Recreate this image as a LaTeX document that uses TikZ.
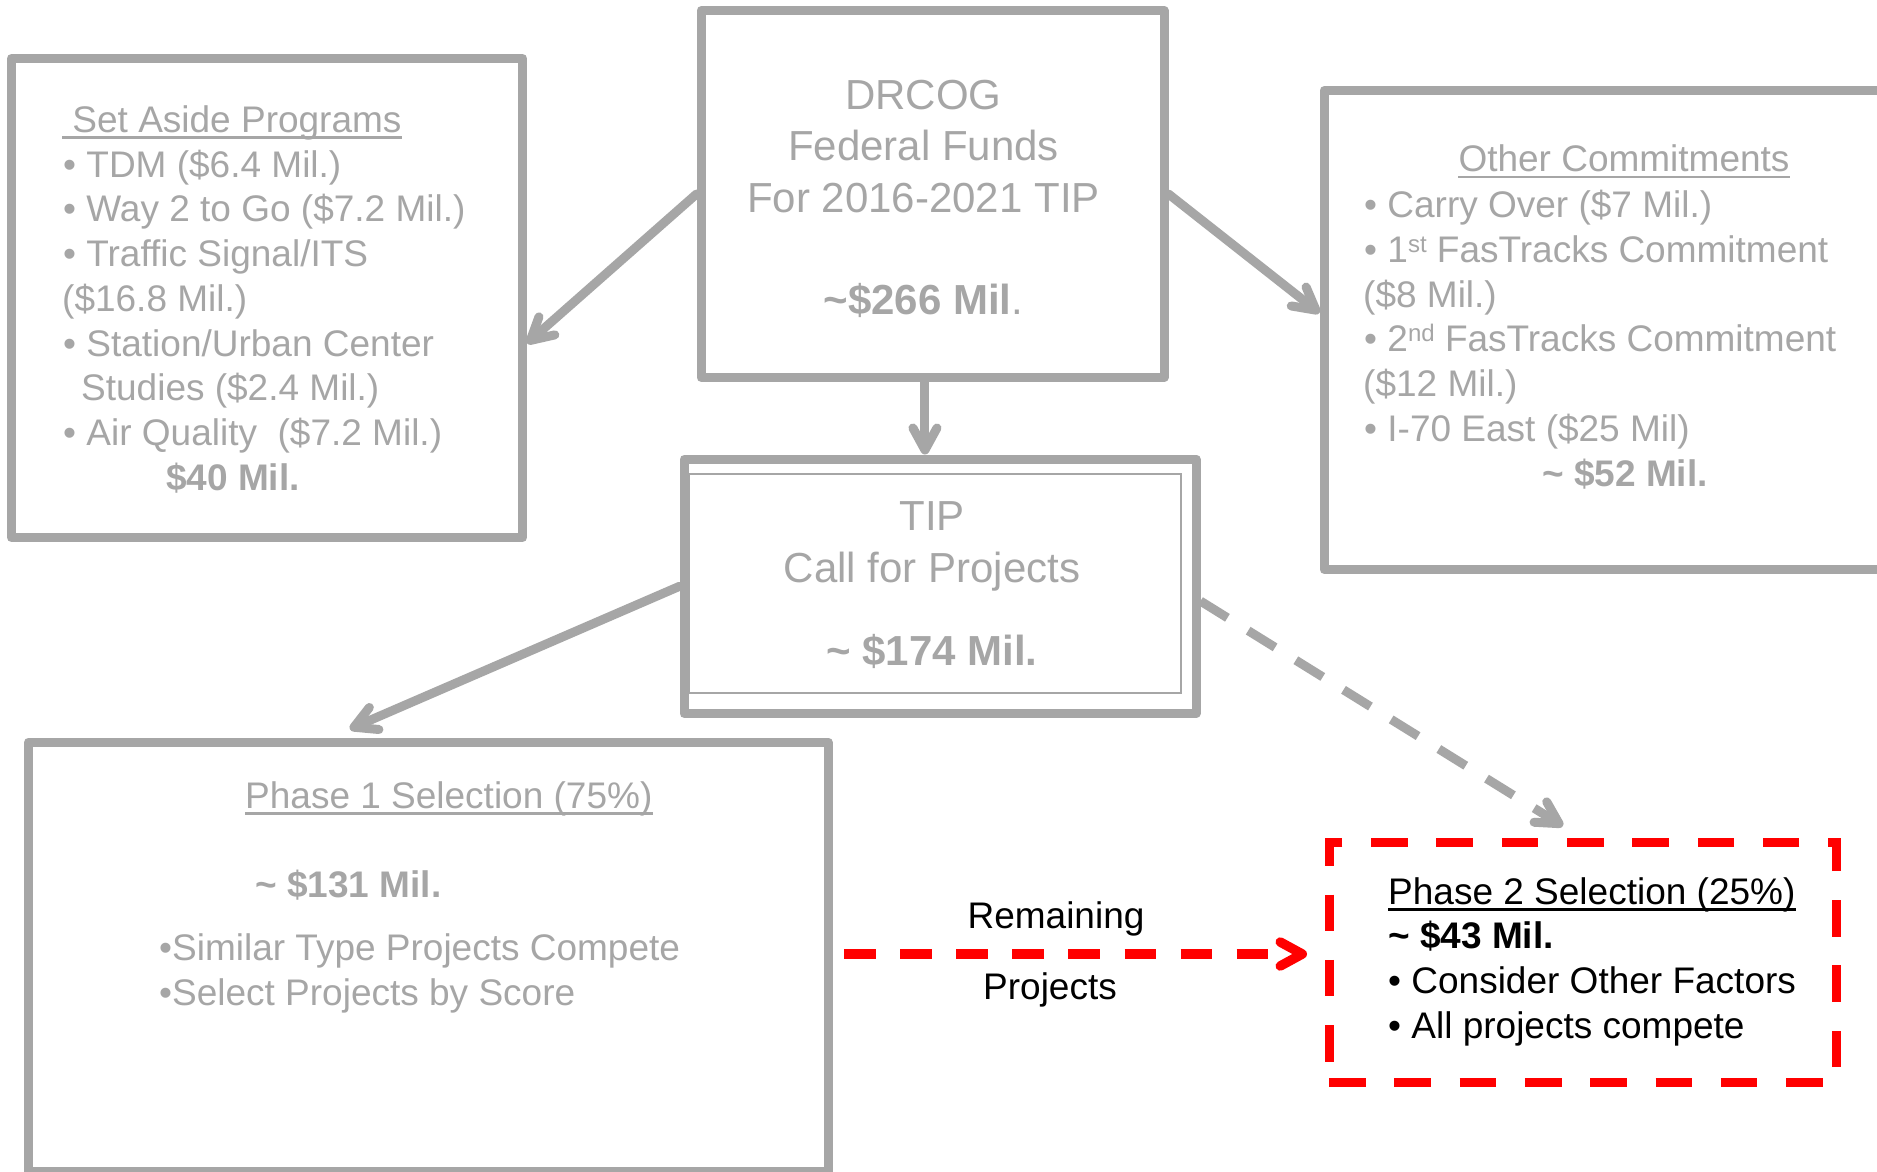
\documentclass[tikz,border=0pt]{standalone}
\usepackage{fontspec}
\setmainfont{Liberation Sans}
\usetikzlibrary{arrows.meta,calc}
\definecolor{gr}{HTML}{A6A6A6}
\definecolor{rd}{HTML}{FF0000}
\newcommand{\myss}[1]{\raisebox{10pt}{\fontsize{24}{24}\selectfont #1}}
\begin{document}
\begin{tikzpicture}[x=1pt,y=-1pt,
  box/.style={draw=gr, line width=9pt, line join=round, rectangle, inner sep=0pt},
  txt/.style={inner sep=0pt, text=gr, font=\fontsize{37}{44.8}\selectfont},
  big/.style={inner sep=0pt, text=gr, font=\fontsize{42}{51}\selectfont},
  blk/.style={inner sep=0pt, text=black, font=\fontsize{37}{44.8}\selectfont},
  tipshape/.style={-{Straight Barb[length=22pt,width=24pt,round]}},
  arr/.style={draw=gr, line width=9pt, line cap=round, tipshape},
  dashgrey/.style={draw=gr, line width=9pt, dash pattern=on 31.7pt off 24.4pt, tipshape},
  dashred/.style={draw=rd, line width=9.5pt, dash pattern=on 31.7pt off 24.4pt, tipshape},
  uline/.style={line width=2.6pt}
]
\useasboundingbox (0,0) rectangle (1877,1171);
\fill[white] (0,0) rectangle (1877,1171);
\clip (0,0) rectangle (1877,1171);

% boxes
\node[box, minimum width=511pt, minimum height=479pt] (setaside) at (267,298) {};
\node[box, minimum width=463pt, minimum height=367pt] (drcog) at (932.5,194) {};
\node[box, minimum width=600pt, minimum height=479pt] (other) at (1624,330) {};
\node[box, minimum width=512pt, minimum height=254.6pt] (tip) at (940,586.3) {};
\node[draw=gr, line width=1.8pt, inner sep=0pt, minimum width=492pt, minimum height=219.4pt] (tipin) at (935,583.3) {};
\node[box, minimum width=799.5pt, minimum height=429pt] (phase1) at (428.25,956.5) {};
\node[draw=rd, line width=9pt, dash pattern=on 36.6pt off 28.7pt, inner sep=0pt, minimum width=507pt, minimum height=240pt] (phase2) at (1582.5,962.5) {};

% Set Aside text
\node[txt, anchor=base west] (sa0) at (62,132) {\hspace*{0.278em}Set Aside Programs};
\draw[gr, uline] ($(sa0.base west)+(0,5.3)$) -- ($(sa0.base east)+(0,5.3)$);
\node[txt, anchor=base west] (sa1) at (63,177) {• TDM (\$6.4 Mil.)};
\node[txt, anchor=base west] (sa2) at (63,221.5) {• Way 2 to Go (\$7.2 Mil.)};
\node[txt, anchor=base west] (sa3) at (63,266) {• Traffic Signal/ITS};
\node[txt, anchor=base west] (sa4) at (62,311) {(\$16.8 Mil.)};
\node[txt, anchor=base west] (sa5) at (63,356) {• Station/Urban Center};
\node[txt, anchor=base west] (sa6) at (81,400.5) {Studies (\$2.4 Mil.)};
\node[txt, anchor=base west] (sa7) at (63,445) {• Air Quality\ \ (\$7.2 Mil.)};
\node[txt, anchor=base west, font=\fontsize{37}{44.8}\selectfont\bfseries] (sa8) at (166,490) {\$40 Mil.};

% DRCOG text
\node[big, anchor=base] (dr1) at (923.5,109) {DRCOG};
\node[big, anchor=base] (dr2) at (923.5,160.6) {Federal Funds};
\node[big, anchor=base] (dr3) at (923.5,212) {For 2016-2021 TIP};
\node[big, anchor=base] (dr4) at (923.5,314) {\textbf{\textasciitilde\$266 Mil}.};

% TIP text
\node[big, anchor=base] (tp1) at (932,530.5) {TIP};
\node[big, anchor=base] (tp2) at (932,582) {Call for Projects};
\node[big, anchor=base, font=\fontsize{42}{51}\selectfont\bfseries] (tp3) at (932,665) {\textasciitilde{} \$174 Mil.};

% Other commitments text
\node[txt, anchor=base] (oc0) at (1624,171.5) {Other Commitments};
\draw[gr, uline] ($(oc0.base west)+(0,5.3)$) -- ($(oc0.base east)+(0,5.3)$);
\node[txt, anchor=base west] (oc1) at (1364,217.5) {• Carry Over (\$7 Mil.)};
\node[txt, anchor=base west] (oc2) at (1364,262) {• 1\myss{st} FasTracks Commitment};
\node[txt, anchor=base west] (oc3) at (1363,307) {(\$8 Mil.)};
\node[txt, anchor=base west] (oc4) at (1364,351.6) {• 2\myss{nd} FasTracks Commitment};
\node[txt, anchor=base west] (oc5) at (1363,396) {(\$12 Mil.)};
\node[txt, anchor=base west] (oc6) at (1364,441) {• I-70 East (\$25 Mil)};
\node[txt, anchor=base, font=\fontsize{37}{44.8}\selectfont\bfseries] (oc7) at (1625,486) {\textasciitilde{} \$52 Mil.};

% Phase 1 text
\node[txt, anchor=base west] (p1a) at (245,808) {Phase 1 Selection (75\%)};
\draw[gr, uline] ($(p1a.base west)+(0,5.3)$) -- ($(p1a.base east)+(0,5.3)$);
\node[txt, anchor=base west, font=\fontsize{37}{44.8}\selectfont\bfseries] (p1b) at (255,897) {\textasciitilde{} \$131 Mil.};
\node[txt, anchor=base west] (p1c) at (159,960.8) {•Similar Type Projects Compete};
\node[txt, anchor=base west] (p1d) at (159,1005.6) {•Select Projects by Score};

% Phase 2 text
\node[blk, anchor=base west] (p2a) at (1388,904) {Phase 2 Selection (25\%)};
\draw[black, uline] ($(p2a.base west)+(0,5.3)$) -- ($(p2a.base east)+(0,5.3)$);
\node[blk, anchor=base west, font=\fontsize{37}{44.8}\selectfont\bfseries] (p2b) at (1388,948.6) {\textasciitilde{} \$43 Mil.};
\node[blk, anchor=base west] (p2c) at (1388,993) {• Consider Other Factors};
\node[blk, anchor=base west] (p2d) at (1388,1038) {• All projects compete};

% labels on red arrow
\node[blk, anchor=base] (rem) at (1056,928) {Remaining};
\node[blk, anchor=base] (proj) at (1050,999) {Projects};

% connectors
\draw[arr] (drcog.west) -- ($(setaside.north east)!0.593!(setaside.south east)$);
\coordinate (d1) at ($(drcog.south west)!0.484!(drcog.south east)$);
\draw[arr] (d1) -- (d1 |- tip.north);
\draw[arr] (drcog.east) -- ($(other.north west)!0.465!(other.south west)$);
\draw[arr] (tip.west) -- ($(phase1.north west)!0.403!(phase1.north east)+(0,-8.5)$);
\draw[dashgrey] ($(tip.north east)!0.556!(tip.south east)$) -- ($(phase2.north west)!0.462!(phase2.north east)+(0,-12)$);
\coordinate (rs) at ($(phase1.east)+(11.5,-2.5)$);
\draw[dashred] (rs) -- ($(rs -| phase2.west)+(-17.5,0)$);
\end{tikzpicture}
\end{document}
